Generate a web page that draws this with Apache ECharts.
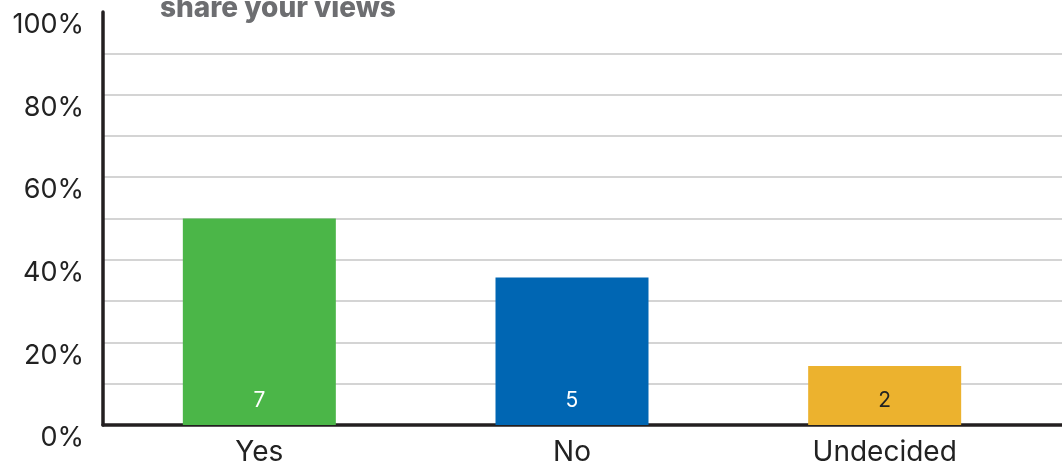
<!DOCTYPE html>
<html>
<head>
<meta charset="utf-8">
<script src="https://cdn.jsdelivr.net/npm/echarts@6/dist/echarts.min.js"></script>
<style>
  html, body { margin: 0; padding: 0; background: #fff; }
  #chart { width: 1062px; height: 468px; }
</style>
</head>
<body>
<div id="chart"></div>
<script>
// Survey responses
const categories = ['Yes', 'No', 'Undecided'];
const counts = [7, 5, 2];
const barColors = ['#4bb648', '#0066b3', '#ecb22e'];
const labelColors = ['#ffffff', '#ffffff', '#222222'];
const titleText = 'share your views';

const total = counts.reduce((a, b) => a + b, 0);
const shares = counts.map(c => c / total * 100);

const FONT = 'Inter';
const chart = echarts.init(document.getElementById('chart'), null, { renderer: 'canvas' });

chart.setOption({
  animation: false,
  backgroundColor: '#ffffff',
  title: {
    text: titleText,
    left: 160,
    top: -5,
    padding: 0,
    textStyle: { fontFamily: FONT, fontSize: 28, fontWeight: 800, color: '#6d6e71' }
  },
  grid: [
    // full-width grid carrying the gridlines and axis lines
    { left: 103, right: 0, top: 12, bottom: 43 },
    // grid carrying the bars and category labels
    { left: 103, right: 21, top: 12, bottom: 43 }
  ],
  xAxis: [
    {
      gridIndex: 0, type: 'value', min: 0, max: 1,
      axisLine: { show: true, onZero: false, lineStyle: { color: '#231f20', width: 3.5 } },
      axisTick: { show: false }, axisLabel: { show: false }, splitLine: { show: false }
    },
    {
      gridIndex: 1, type: 'category', data: categories,
      axisLine: { show: false }, axisTick: { show: false },
      axisLabel: { fontFamily: FONT, fontSize: 28, color: '#222222', margin: 14 }
    }
  ],
  yAxis: [
    {
      gridIndex: 0, type: 'value', min: 0, max: 100, interval: 10,
      axisLine: { show: true, lineStyle: { color: '#231f20', width: 3.5 } },
      axisTick: { show: false },
      splitLine: {
        show: true,
        lineStyle: { color: '#d4d4d4', width: 2 },
        showMinLine: false, showMaxLine: false
      },
      axisLabel: {
        fontFamily: FONT, fontSize: 27, color: '#222222', margin: 19,
        verticalAlign: 'top', lineHeight: 26,
        formatter: v => (v % 20 === 0 ? v + '%' : '')
      }
    },
    {
      gridIndex: 1, type: 'value', min: 0, max: 100, interval: 10, show: false
    }
  ],
  series: [{
    type: 'bar',
    xAxisIndex: 1, yAxisIndex: 1,
    barWidth: 153,
    data: shares.map((v, i) => ({
      value: v,
      count: counts[i],
      itemStyle: { color: barColors[i] },
      label: { color: labelColors[i] }
    })),
    label: {
      show: true,
      position: 'insideBottom',
      distance: 14,
      fontFamily: FONT,
      fontSize: 21,
      formatter: p => String(p.data.count)
    }
  }]
});
</script>
</body>
</html>
